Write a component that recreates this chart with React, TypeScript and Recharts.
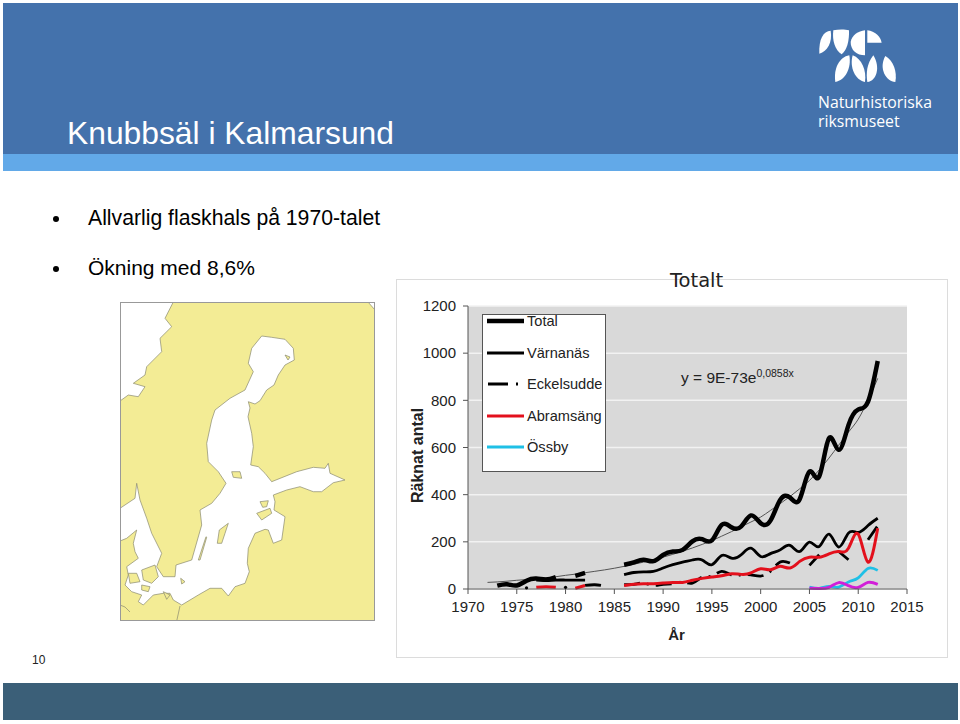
import { LineChart, Line, XAxis, YAxis, CartesianGrid, Legend, Label } from 'recharts'

const years = [1972, 1973, 1974, 1975, 1976, 1977, 1978, 1979, 1980, 1981, 1982, 1983, 1984, 1985, 1986, 1987, 1988, 1989, 1990, 1991, 1992, 1993, 1994, 1995, 1996, 1997, 1998, 1999, 2000, 2001, 2002, 2003, 2004, 2005, 2006, 2007, 2008, 2009, 2010, 2011, 2012]

const total = [null, 14, 20, 15, 35, 44, 40, 50, null, 56, 68, null, null, null, 103, 113, 124, 118, 145, 159, 166, 202, 211, 206, 272, 262, 265, 312, 279, 290, 378, 388, 381, 498, 477, 639, 590, 695, 761, 794, 967]
const varnanas = [null, null, null, null, null, 38, 36, 38, 38, 38, 38, null, null, null, 61, 70, 73, 75, 89, 103, 114, 123, 123, 103, 142, 131, 145, 173, 138, 150, 166, 185, 159, 199, 180, 233, 178, 237, 240, 269, 300]
const eckelsudde = [null, null, null, null, 5, null, null, null, 7, null, 15, 18, 12, null, 18, 20, 25, 15, 20, 22, 30, 25, 50, 55, 75, 60, 60, 60, 55, 75, 115, 110, null, 100, 145, null, 159, 124, null, 209, 268]
const abramsang = [null, null, null, null, null, 7, 10, 7, null, 3, 15, null, null, null, 15, 20, 22, 22, 25, 28, 28, 37, 45, 51, 56, 65, 62, 68, 86, 82, 96, 89, 117, 135, 135, 149, 159, 173, 233, 114, 258]
const ossby = [null, null, null, null, null, null, null, null, null, null, null, null, null, null, null, null, null, null, null, null, null, null, null, null, null, null, null, null, null, null, null, null, null, 8, 3, 11, 8, 30, 47, 87, 79]
const magenta = [null, null, null, null, null, null, null, null, null, null, null, null, null, null, null, null, null, null, null, null, null, null, null, null, null, null, null, null, null, null, null, null, null, 3, 2, 7, 27, 14, 7, 28, 20]
const trend = [28, 30, 33, 37, 40, 43, 47, 52, 58, 63, 69, 75, 81, 88, 96, 105, 114, 124, 135, 147, 160, 174, 189, 205, 224, 243, 264, 284, 305, 333, 362, 392, 425, 460, 505, 555, 610, 665, 720, 800, 893]

const xTicks = [1970, 1975, 1980, 1985, 1990, 1995, 2000, 2005, 2010, 2015]
const yTicks = [0, 200, 400, 600, 800, 1000, 1200]

const legendNames = ['Total', 'Värnanäs', 'Eckelsudde', 'Abramsäng', 'Össby']
const legendColors = ['#000000', '#000000', '#000000', '#e3101c', '#1fc0e6']
const legendWidths = [4.5, 2.8, 2.8, 2.8, 2.8]

const chartData = years.map((year, i) => ({
  year,
  total: total[i],
  varnanas: varnanas[i],
  eckelsudde: eckelsudde[i],
  abramsang: abramsang[i],
  ossby: ossby[i],
  magenta: magenta[i],
  trend: trend[i],
}))

const arial = '"Liberation Sans", Arial, sans-serif'
const landColor = '#f3ec95'

// single counts between gaps have no line to draw, so they show up as a dot
const IsolatedDot = (props: any) => {
  const { cx, cy, index, value } = props
  const isolated = value != null && eckelsudde[index - 1] == null && eckelsudde[index + 1] == null
  if (!isolated || cx == null || cy == null) return <g key={index} />
  return <circle key={index} cx={cx} cy={cy} r={1.6} fill="#000" />
}

const ChartLegend = () => (
  <div style={{ width: 122, height: 156, background: '#fff', border: '1px solid #555', fontFamily: arial, fontSize: 14.6, color: '#222' }}>
    {legendNames.map((name, i) => (
      <div key={name} style={{ position: 'absolute', left: 5, top: i * 31.6, height: 14, display: 'flex', alignItems: 'center' }}>
        <svg width={40} height={14} style={{ display: 'block' }}>
          {name === 'Eckelsudde' ? (
            <line x1={1} x2={37} y1={7} y2={7} stroke={legendColors[i]} strokeWidth={legendWidths[i]} strokeDasharray="20 8 2 6" />
          ) : (
            <line x1={0} x2={37} y1={7} y2={7} stroke={legendColors[i]} strokeWidth={legendWidths[i]} />
          )}
        </svg>
        <span>{name}</span>
      </div>
    ))}
  </div>
)

const seaPath = 'M261.7 336 L271.7 337.3 L285 339.3 L293.3 348.3 L294.3 360 L285 365 L278.3 375 L274 385 L266.7 390 L260 400.7 L255 404 L248.3 401.7 L250 408 L248 416.7 L251.7 433.3 L253.3 446.7 L250.7 465 L258.3 466.7 L265 473.3 L271.7 481.7 L296.7 471.7 L313.3 467.3 L325 468.3 L328.3 463.3 L330 473.3 L345 480 L333.3 482.7 L321.7 491.7 L313.3 491.7 L300 486.7 L286.7 490 L273.3 495 L275 501.7 L274 510 L285 516.7 L281.7 540 L273.3 543.3 L268.3 530 L265 529.3 L255 533.3 L248.3 548.3 L247.3 563.3 L249.3 571.7 L245 583.3 L235 586.7 L228.3 596 L221.7 588.3 L210 588.3 L198.3 595 L181.7 605 L173.3 600 L170 593.3 L163.3 593.3 L153.3 595 L143.3 605 L138.3 601.7 L141.7 595 L131.7 591.7 L125 585 L128.3 575 L126.7 566.7 L138.3 558.3 L135 551.7 L133.3 543.3 L136.7 530 L126.7 538.3 L120 541 L120 508.3 L135 498.3 L136.7 483.3 L140 500 L146.7 518.3 L151.7 533.3 L161.7 553.3 L156.7 566.7 L163.3 576.7 L175 576.7 L176 565 L191.7 560 L201.7 525 L200 510 L211.7 503.3 L220 493.3 L226 483.3 L218.3 471.7 L208.3 461.7 L206.7 443.3 L211.7 420 L215 410 L230 398.3 L245 390 L253.3 371.7 L248.3 363.3 L251.7 348.3 Z'
const norwayPath = 'M120 302 L173.3 302 L165 318.3 L171.7 326.7 L160 338.3 L161.7 351.7 L146.7 366.7 L145 375 L133.3 383.3 L145 386.7 L138.3 396.7 L128.3 395 L120 401 Z'
const islandPaths = [
  'M228.3 523.3 L219.3 530 L217.3 543.3 L221.7 543.3 L225 533.3 Z',
  'M206 536.7 L198.3 560 L200 560 L206.7 537.3 Z',
  'M256.7 513.3 L270 508.3 L271.7 513.3 L261.7 520 Z',
  'M260 501.7 L268.3 500.7 L266.7 506.7 L262.7 507.3 Z',
  'M180.7 578.3 L185 581.7 L181.7 584 Z',
  'M141.7 570 L155 565 L158.3 576.7 L151.7 583.3 L143.3 580 Z',
  'M128.3 573.3 L136.7 573.3 L140 581.7 L130 583.3 Z',
  'M141.7 585 L150 586.7 L148.3 591.7 L141.7 590 Z',
  'M163.3 591.7 L170 595 L166.7 599.3 Z',
  'M231.7 471.7 L240 471.7 L241.7 478.3 L233.3 477.3 Z',
  'M285 355 L290 357 L288 360 Z',
]

const BalticMap = () => (
  <svg viewBox="120 302 255 319" width={255} height={319} style={{ position: 'absolute', left: 120, top: 302 }}>
    <rect x={120} y={302} width={255} height={319} fill={landColor} />
    <g fill="#fff" stroke="#8a8a70" strokeWidth={0.7} strokeLinejoin="round">
      <path d={norwayPath} />
      <path d="M368 302 L375 302 L375 310 Z" />
      <path d={seaPath} />
    </g>
    <g fill={landColor} stroke="#8a8a70" strokeWidth={0.7} strokeLinejoin="round">
      {islandPaths.map((d) => <path key={d} d={d} />)}
    </g>
    <g fill="none" stroke="#8a8a70" strokeWidth={0.7}>
      <path d="M120 605 L125 607 L130 612" />
      <path d="M180 606 L176.7 621" />
    </g>
    <rect x={120.5} y={302.5} width={254} height={318} fill="none" stroke="#999" strokeWidth={1} />
  </svg>
)

const logoLeaves = [
  'M62 26 C40 28 26 50 28 95 C52 88 68 60 62 26 Z',
  'M70 25 C85 22 105 22 117 25 C118 60 110 85 95 97 C75 85 66 55 70 25 Z',
  'M165 25 L165 100 C140 100 122 85 122 60 C125 40 145 27 165 25 Z',
  'M172 25 C195 27 212 45 215 62 L172 62 Z',
  'M118 100 C88 105 70 140 76 180 C105 175 125 140 118 100 Z',
  'M128 100 C155 110 170 145 165 180 C135 175 118 135 128 100 Z',
  'M190 100 C170 125 168 155 172 180 C200 178 212 135 190 100 Z',
  'M226 102 C250 115 262 150 256 180 C228 178 205 140 226 102 Z',
]

const Logo = () => (
  <svg viewBox="0 0 288 198" width={96} height={66} style={{ position: 'absolute', left: 810, top: 22 }}>
    <g fill="#fff">
      {logoLeaves.map((d) => <path key={d} d={d} />)}
    </g>
  </svg>
)

const Bullet = ({ top }: { top: number }) => (
  <div style={{ position: 'absolute', left: 53, top, width: 6, height: 6, borderRadius: 3, background: '#000' }} />
)

const App = () => {
  return (
    <div style={{ position: 'absolute', left: 0, top: 0, width: 960, height: 724, background: '#fff', overflow: 'hidden', fontFamily: arial }}>
      <div style={{ position: 'absolute', left: 3, top: 3, width: 955, height: 151, background: '#4472ac' }} />
      <div style={{ position: 'absolute', left: 3, top: 154, width: 955, height: 17, background: '#62a9e8' }} />
      <div style={{ position: 'absolute', left: 3, top: 683, width: 955, height: 37, background: '#3b5f78' }} />

      <div style={{ position: 'absolute', left: 67, top: 115, fontSize: 31.8, color: '#fff', lineHeight: '36px', whiteSpace: 'nowrap' }}>Knubbsäl i Kalmarsund</div>
      <Logo />
      <div style={{ position: 'absolute', left: 818, top: 92, fontFamily: '"Open Sans", sans-serif', fontSize: 17, lineHeight: '19px', color: '#fff', whiteSpace: 'nowrap', transform: 'scaleX(0.93)', transformOrigin: 'left top' }}>
        Naturhistoriska<br />riksmuseet
      </div>

      <Bullet top={216} />
      <div style={{ position: 'absolute', left: 88, top: 205, fontSize: 21.2, lineHeight: '26px', color: '#000', whiteSpace: 'nowrap' }}>Allvarlig flaskhals på 1970-talet</div>
      <Bullet top={266} />
      <div style={{ position: 'absolute', left: 88, top: 255, fontSize: 21, lineHeight: '26px', color: '#000', whiteSpace: 'nowrap' }}>Ökning med 8,6%</div>
      <div style={{ position: 'absolute', left: 32, top: 653, fontSize: 12, lineHeight: '14px', color: '#222' }}>10</div>

      <BalticMap />

      <div style={{ position: 'absolute', left: 396, top: 279, width: 550, height: 377, border: '1px solid #dcdcdc', background: '#fff' }}>
        <LineChart width={550} height={377} data={chartData} margin={{ top: 26, right: 40, bottom: 0, left: 0 }}>
          <CartesianGrid horizontal vertical={false} stroke="#f2f2f2" strokeWidth={1.5} fill="#d9d9d9" />
          <XAxis
            type="number"
            dataKey="year"
            domain={[1970, 2015]}
            ticks={xTicks}
            height={68}
            interval={0}
            tickSize={5}
            tickMargin={7}
            stroke="#555"
            tick={{ fontSize: 15, fill: '#222', fontFamily: arial }}
          >
            <Label value="År" position="insideTop" offset={40} dx={-11} style={{ fontSize: 15, fontWeight: 700, fill: '#222', fontFamily: arial }} />
          </XAxis>
          <YAxis
            type="number"
            domain={[0, 1200]}
            ticks={yTicks}
            width={71}
            interval={0}
            tickSize={5}
            tickMargin={7}
            stroke="#555"
            tick={{ fontSize: 15, fill: '#222', fontFamily: arial }}
          >
            <Label value="Räknat antal" angle={-90} position="insideLeft" offset={20} dy={8} style={{ fontSize: 16, fontWeight: 700, fill: '#222', fontFamily: arial, textAnchor: 'middle' }} />
          </YAxis>
          <Legend
            layout="vertical"
            align="center"
            verticalAlign="middle"
            content={() => <ChartLegend />}
            wrapperStyle={{ left: 85, top: 34, width: 124, height: 158 }}
          />
          <Line dataKey="trend" type="monotone" stroke="#555" strokeWidth={1} dot={false} isAnimationActive={false} legendType="none" />
          <Line dataKey="ossby" type="natural" stroke="#1fc0e6" strokeWidth={2.8} dot={false} isAnimationActive={false} />
          <Line dataKey="magenta" type="natural" stroke="#d21fd8" strokeWidth={3} dot={false} isAnimationActive={false} legendType="none" />
          <Line dataKey="eckelsudde" type="natural" stroke="#000" strokeWidth={2.8} strokeDasharray="16 7 2 7" dot={IsolatedDot} isAnimationActive={false} />
          <Line dataKey="varnanas" type="natural" stroke="#000" strokeWidth={2.8} dot={false} isAnimationActive={false} />
          <Line dataKey="total" type="natural" stroke="#000" strokeWidth={4.5} dot={false} isAnimationActive={false} />
          <Line dataKey="abramsang" type="natural" stroke="#e3101c" strokeWidth={3} dot={false} isAnimationActive={false} />
        </LineChart>
        <div style={{ position: 'absolute', left: 273, top: 0, fontFamily: '"DejaVu Sans", sans-serif', fontSize: 19.5, lineHeight: '1px', color: '#222' }}>Totalt</div>
        <div style={{ position: 'absolute', left: 284, top: 87, fontSize: 15.5, color: '#222', whiteSpace: 'nowrap' }}>
          y = 9E-73e<sup style={{ fontSize: 10.5 }}>0,0858x</sup>
        </div>
      </div>
    </div>
  )
}

export default App
